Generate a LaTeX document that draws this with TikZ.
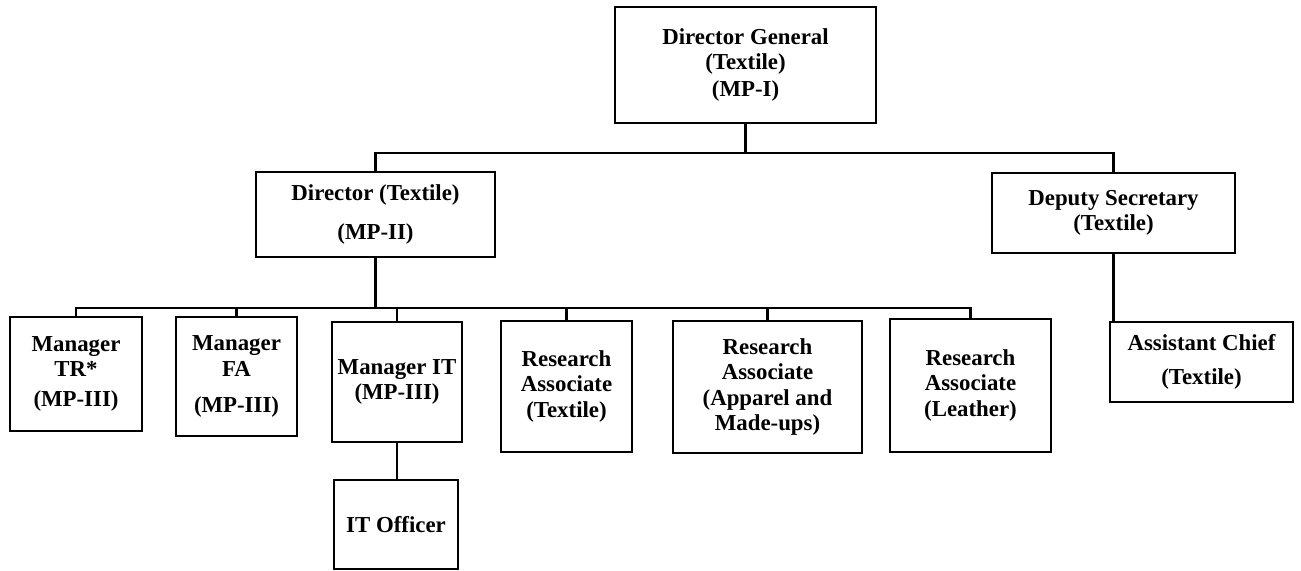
\documentclass[tikz,border=0pt]{standalone}
\usepackage{fontspec}
\setmainfont{Liberation Serif}

\begin{document}
\begin{tikzpicture}[x=0.02cm,y=-0.02cm,line width=1.2pt,
  post/.style={draw,rectangle,inner sep=0pt,align=center,
    font=\fontsize{13}{14.4}\selectfont\bfseries},
  link/.style={line width=1.5pt}]
\useasboundingbox (0,0) rectangle (1301,571);

\node[post,minimum width=5.22cm,minimum height=2.32cm] (dg) at (745.5,65)
  {Director General\\(Textile)\\[1pt](MP-I)};
\node[post,minimum width=4.78cm,minimum height=1.70cm] (dir) at (375.5,214.5)
  {Director (Textile)\\[8pt](MP-II)};
\node[post,minimum width=4.86cm,minimum height=1.60cm] (dep) at (1113.5,213)
  {Deputy Secretary\\(Textile)};
\node[post,minimum width=3.66cm,minimum height=1.60cm] (asst) at (1201.5,362)
  {Assistant Chief\\[5pt](Textile)};

\node[post,minimum width=2.64cm,minimum height=2.28cm] (tr) at (76,374)
  {Manager\\TR*\\[3pt](MP-III)};
\node[post,minimum width=2.42cm,minimum height=2.38cm] (fa) at (236.5,376.5)
  {Manager\\FA\\[6pt](MP-III)};
\node[post,minimum width=2.60cm,minimum height=2.40cm] (mit) at (397,382)
  {Manager IT\\(MP-III)};
\node[post,minimum width=2.48cm,minimum height=1.78cm] (ito) at (396,524.5)
  {IT Officer};
\node[post,minimum width=2.62cm,minimum height=2.62cm] (rat) at (566.5,386.5)
  {Research\\Associate\\(Textile)};
\node[post,minimum width=3.78cm,minimum height=2.64cm] (raa) at (767.5,387)
  {Research\\Associate\\(Apparel and\\Made-ups)};
\node[post,minimum width=3.22cm,minimum height=2.66cm] (ral) at (970.5,385.5)
  {Research\\Associate\\(Leather)};

\coordinate (bus1) at (745.5,153);
\coordinate (bus2) at (375.5,308);

\draw[link] (dg.south) -- (bus1);
\draw[link] (dir.north) |- (bus1) -| (dep.north);
\draw[link] (dir.south) -- (bus2);
\draw[link] (tr.north) |- (bus2) -| (ral.north);
\foreach \n in {fa,mit,rat,raa}
  \draw[link] (\n.north) -- (\n.north |- bus2);
\draw[link] (mit.south) -- (mit.south |- ito.north);
\draw[link] (dep.south) -- (dep.south |- asst.north);
\end{tikzpicture}
\end{document}
